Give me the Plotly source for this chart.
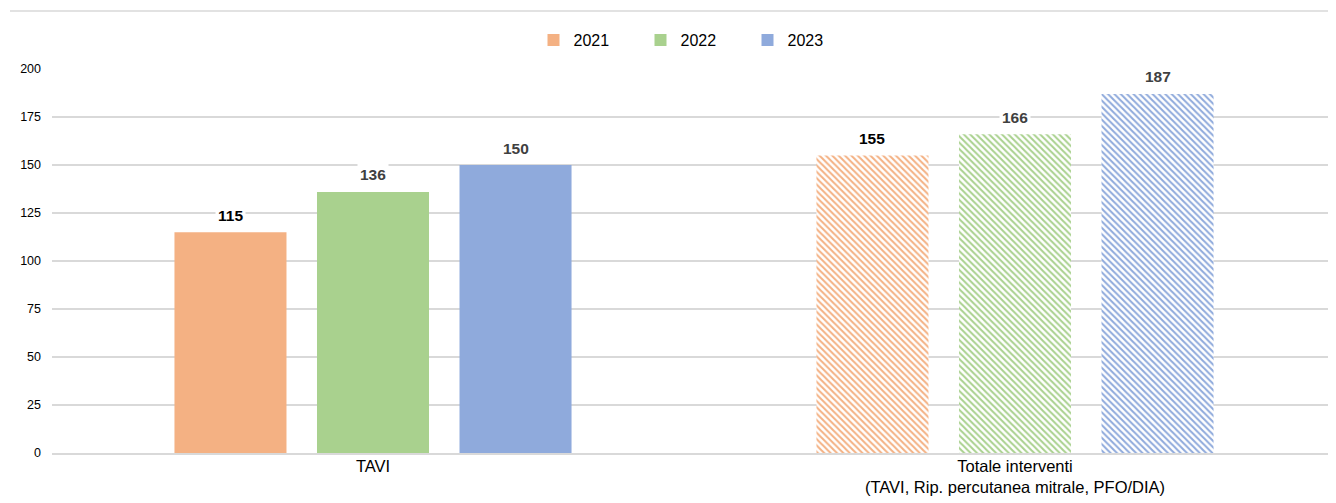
import plotly.graph_objects as go

categories = ["TAVI", "Totale interventi"]
tick_labels = ["TAVI", "Totale interventi<br>(TAVI, Rip. percutanea mitrale, PFO/DIA)"]
years = ["2021", "2022", "2023"]
values_2021 = [115, 155]
values_2022 = [136, 166]
values_2023 = [150, 187]
series = [values_2021, values_2022, values_2023]
colors = ["#F4B183", "#A9D18E", "#8FAADC"]
label_colors = [["#000000", "#000000"], ["#404040", "#404040"], ["#404040", "#404040"]]

FONT = "Liberation Sans, Arial, sans-serif"
# page body has an 8px margin, so the figure is sized / offset to compensate
W, H = 1328, 495
ML, MR, MT, MB = 44, 0, 61, 50
BARGAP = 0.334

fig = go.Figure()
for year, vals, col in zip(years, series, colors):
    fig.add_trace(go.Bar(
        x=categories, y=vals, name=year,
        marker=dict(
            color=col,
            line=dict(width=0),
            pattern=dict(shape=["", "\\"], fgcolor=[col, col], bgcolor=[col, "white"],
                         size=4.5, solidity=0.45, fillmode="replace"),
        ),
        hoverinfo="skip",
    ))

# value labels with white box (gridline break)
plot_w = W - ML - MR
cat_w = plot_w / len(categories)
slot = cat_w * (1 - BARGAP) / len(years)
for i, (vals, lc) in enumerate(zip(series, label_colors)):
    shift = (i - (len(years) - 1) / 2) * slot
    for c, v, tc in zip(categories, vals, lc):
        fig.add_annotation(x=c, y=v, xref="x", yref="y", text=f"<b>{v}</b>",
                           showarrow=False, xshift=shift, yshift=17, yanchor="middle",
                           bgcolor="white", borderpad=2,
                           font=dict(family=FONT, size=15.5, color=tc))

plot_h = H - MT - MB
top_y = (H - 3 - MB) / plot_h
fig.add_shape(type="line", xref="paper", yref="paper", x0=(2 - ML) / plot_w, x1=1.0,
              y0=top_y, y1=top_y, line=dict(color="#d9d9d9", width=1.5))

fig.update_layout(
    width=W, height=H,
    margin=dict(l=ML, r=MR, t=MT, b=MB),
    paper_bgcolor="white", plot_bgcolor="white",
    barmode="group", bargap=BARGAP, bargroupgap=0.214,
    font=dict(family=FONT, color="#000000"),
    legend=dict(orientation="h", x=0.5, xanchor="center", y=1 - 32 / H, yanchor="middle",
                yref="container", bgcolor="rgba(0,0,0,0)",
                font=dict(family=FONT, size=16, color="#000000"),
                entrywidth=62),
    showlegend=True,
    xaxis=dict(tickvals=categories, ticktext=tick_labels, showgrid=False, automargin=False,
               showline=True, linecolor="#d9d9d9", linewidth=1.5,
               tickfont=dict(family=FONT, size=16.5, color="#000000"), ticks="",
               ticklabelstandoff=-3),
    yaxis=dict(range=[0, 200], tickvals=[0, 25, 50, 75, 100, 125, 150, 175, 200],
               showgrid=True, gridcolor="#d9d9d9", gridwidth=1.5, zeroline=False,
               automargin=False,
               tickfont=dict(family=FONT, size=12.5, color="#000000"), ticks="",
               ticklabelstandoff=10),
)

fig.write_html("out.html")
